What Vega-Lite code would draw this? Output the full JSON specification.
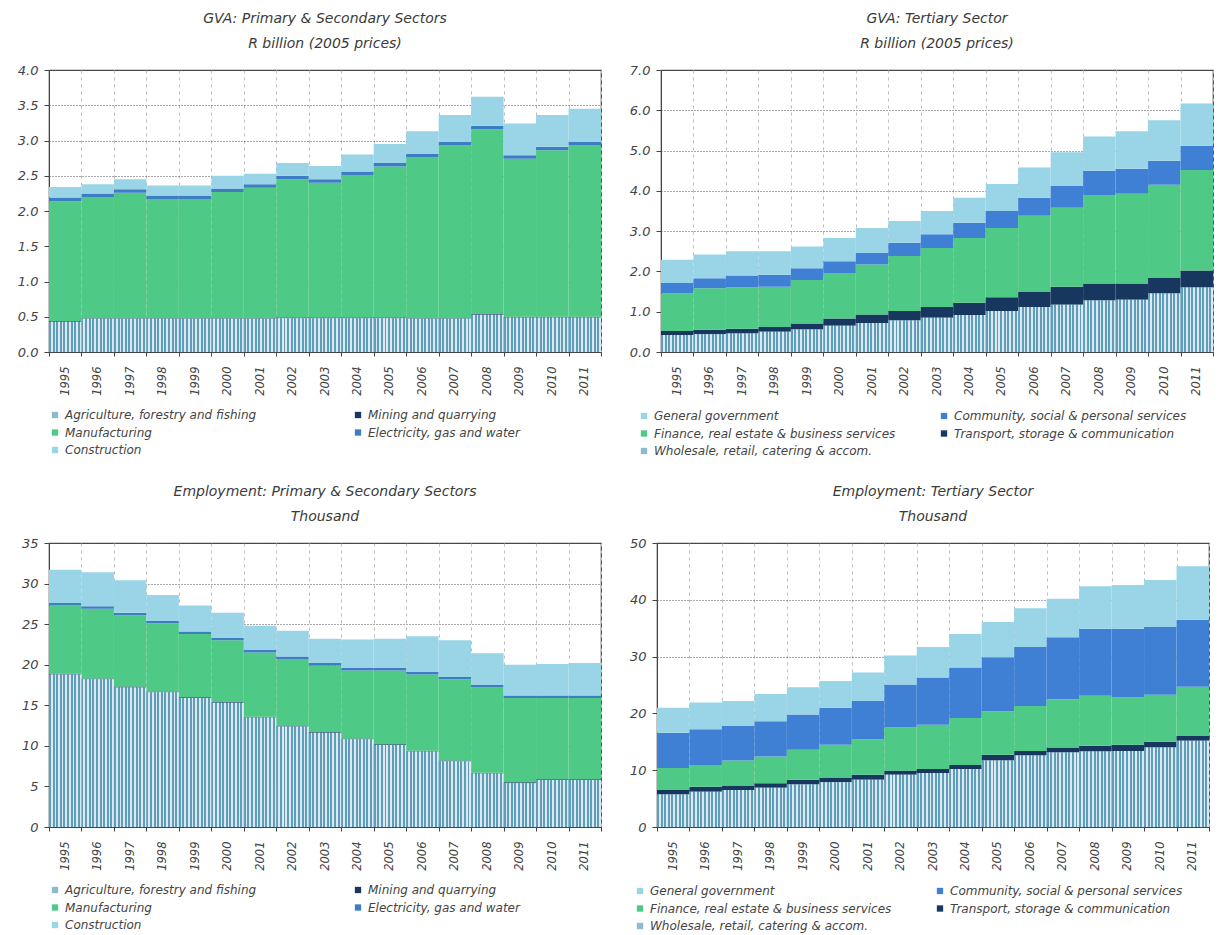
{
  "$schema": "https://vega.github.io/schema/vega-lite/v6.json",
  "padding": {"left": 16, "top": 11, "right": 0, "bottom": 0},
  "background": "white",
  "config": {
    "font": "DejaVu Sans",
    "view": {"stroke": "#444", "strokeWidth": 1.2},
    "title": {"font": "DejaVu Sans", "fontStyle": "italic", "fontWeight": "normal", "fontSize": 14, "color": "#3a3a3a", "lineHeight": 25, "offset": 13, "anchor": "middle"},
    "axisY": {"grid": true, "gridColor": "#555", "gridDash": [1, 2], "gridWidth": 1, "domainColor": "#444", "tickColor": "#444", "tickSize": 5, "labelFont": "DejaVu Sans", "labelFontStyle": "italic", "labelFontSize": 13, "labelColor": "#444", "labelPadding": 6, "title": null},
    "axisX": {"grid": true, "gridColor": "#bbb", "gridDash": [3, 4], "tickBand": "extent", "domainColor": "#444", "tickColor": "#444", "tickSize": 4, "labelAngle": -90, "labelFont": "DejaVu Sans", "labelFontStyle": "italic", "labelFontSize": 11.5, "labelColor": "#444", "labelPadding": 10, "title": null},
    "legend": {"orient": "bottom", "direction": "horizontal", "columns": 2, "labelFont": "DejaVu Sans", "labelFontStyle": "italic", "labelFontSize": 12, "labelColor": "#444", "symbolType": "square", "symbolSize": 40, "symbolStrokeWidth": 0, "rowPadding": 5.5, "labelLimit": 320, "offset": 13}
  },
  "datasets": {
    "gvaP": [
      {"year": "1995", "sector": "Agriculture, forestry and fishing", "value": 0.43}, {"year": "1995", "sector": "Mining and quarrying", "value": 0.01}, {"year": "1995", "sector": "Manufacturing", "value": 1.70}, {"year": "1995", "sector": "Electricity, gas and water", "value": 0.05}, {"year": "1995", "sector": "Construction", "value": 0.15},
      {"year": "1996", "sector": "Agriculture, forestry and fishing", "value": 0.47}, {"year": "1996", "sector": "Mining and quarrying", "value": 0.01}, {"year": "1996", "sector": "Manufacturing", "value": 1.72}, {"year": "1996", "sector": "Electricity, gas and water", "value": 0.05}, {"year": "1996", "sector": "Construction", "value": 0.13},
      {"year": "1997", "sector": "Agriculture, forestry and fishing", "value": 0.47}, {"year": "1997", "sector": "Mining and quarrying", "value": 0.01}, {"year": "1997", "sector": "Manufacturing", "value": 1.78}, {"year": "1997", "sector": "Electricity, gas and water", "value": 0.05}, {"year": "1997", "sector": "Construction", "value": 0.14},
      {"year": "1998", "sector": "Agriculture, forestry and fishing", "value": 0.47}, {"year": "1998", "sector": "Mining and quarrying", "value": 0.01}, {"year": "1998", "sector": "Manufacturing", "value": 1.69}, {"year": "1998", "sector": "Electricity, gas and water", "value": 0.05}, {"year": "1998", "sector": "Construction", "value": 0.14},
      {"year": "1999", "sector": "Agriculture, forestry and fishing", "value": 0.47}, {"year": "1999", "sector": "Mining and quarrying", "value": 0.01}, {"year": "1999", "sector": "Manufacturing", "value": 1.69}, {"year": "1999", "sector": "Electricity, gas and water", "value": 0.05}, {"year": "1999", "sector": "Construction", "value": 0.14},
      {"year": "2000", "sector": "Agriculture, forestry and fishing", "value": 0.47}, {"year": "2000", "sector": "Mining and quarrying", "value": 0.01}, {"year": "2000", "sector": "Manufacturing", "value": 1.79}, {"year": "2000", "sector": "Electricity, gas and water", "value": 0.05}, {"year": "2000", "sector": "Construction", "value": 0.18},
      {"year": "2001", "sector": "Agriculture, forestry and fishing", "value": 0.47}, {"year": "2001", "sector": "Mining and quarrying", "value": 0.01}, {"year": "2001", "sector": "Manufacturing", "value": 1.85}, {"year": "2001", "sector": "Electricity, gas and water", "value": 0.05}, {"year": "2001", "sector": "Construction", "value": 0.15},
      {"year": "2002", "sector": "Agriculture, forestry and fishing", "value": 0.48}, {"year": "2002", "sector": "Mining and quarrying", "value": 0.01}, {"year": "2002", "sector": "Manufacturing", "value": 1.96}, {"year": "2002", "sector": "Electricity, gas and water", "value": 0.05}, {"year": "2002", "sector": "Construction", "value": 0.18},
      {"year": "2003", "sector": "Agriculture, forestry and fishing", "value": 0.48}, {"year": "2003", "sector": "Mining and quarrying", "value": 0.01}, {"year": "2003", "sector": "Manufacturing", "value": 1.91}, {"year": "2003", "sector": "Electricity, gas and water", "value": 0.05}, {"year": "2003", "sector": "Construction", "value": 0.19},
      {"year": "2004", "sector": "Agriculture, forestry and fishing", "value": 0.48}, {"year": "2004", "sector": "Mining and quarrying", "value": 0.01}, {"year": "2004", "sector": "Manufacturing", "value": 2.02}, {"year": "2004", "sector": "Electricity, gas and water", "value": 0.05}, {"year": "2004", "sector": "Construction", "value": 0.24},
      {"year": "2005", "sector": "Agriculture, forestry and fishing", "value": 0.48}, {"year": "2005", "sector": "Mining and quarrying", "value": 0.01}, {"year": "2005", "sector": "Manufacturing", "value": 2.14}, {"year": "2005", "sector": "Electricity, gas and water", "value": 0.05}, {"year": "2005", "sector": "Construction", "value": 0.27},
      {"year": "2006", "sector": "Agriculture, forestry and fishing", "value": 0.47}, {"year": "2006", "sector": "Mining and quarrying", "value": 0.01}, {"year": "2006", "sector": "Manufacturing", "value": 2.28}, {"year": "2006", "sector": "Electricity, gas and water", "value": 0.05}, {"year": "2006", "sector": "Construction", "value": 0.32},
      {"year": "2007", "sector": "Agriculture, forestry and fishing", "value": 0.47}, {"year": "2007", "sector": "Mining and quarrying", "value": 0.01}, {"year": "2007", "sector": "Manufacturing", "value": 2.45}, {"year": "2007", "sector": "Electricity, gas and water", "value": 0.05}, {"year": "2007", "sector": "Construction", "value": 0.38},
      {"year": "2008", "sector": "Agriculture, forestry and fishing", "value": 0.53}, {"year": "2008", "sector": "Mining and quarrying", "value": 0.01}, {"year": "2008", "sector": "Manufacturing", "value": 2.62}, {"year": "2008", "sector": "Electricity, gas and water", "value": 0.05}, {"year": "2008", "sector": "Construction", "value": 0.41},
      {"year": "2009", "sector": "Agriculture, forestry and fishing", "value": 0.49}, {"year": "2009", "sector": "Mining and quarrying", "value": 0.01}, {"year": "2009", "sector": "Manufacturing", "value": 2.24}, {"year": "2009", "sector": "Electricity, gas and water", "value": 0.05}, {"year": "2009", "sector": "Construction", "value": 0.45},
      {"year": "2010", "sector": "Agriculture, forestry and fishing", "value": 0.49}, {"year": "2010", "sector": "Mining and quarrying", "value": 0.01}, {"year": "2010", "sector": "Manufacturing", "value": 2.36}, {"year": "2010", "sector": "Electricity, gas and water", "value": 0.05}, {"year": "2010", "sector": "Construction", "value": 0.45},
      {"year": "2011", "sector": "Agriculture, forestry and fishing", "value": 0.49}, {"year": "2011", "sector": "Mining and quarrying", "value": 0.01}, {"year": "2011", "sector": "Manufacturing", "value": 2.43}, {"year": "2011", "sector": "Electricity, gas and water", "value": 0.05}, {"year": "2011", "sector": "Construction", "value": 0.47}
    ],
    "gvaT": [
      {"year": "1995", "sector": "Wholesale, retail, catering & accom.", "value": 0.42}, {"year": "1995", "sector": "Transport, storage & communication", "value": 0.10}, {"year": "1995", "sector": "Finance, real estate & business services", "value": 0.93}, {"year": "1995", "sector": "Community, social & personal services", "value": 0.26}, {"year": "1995", "sector": "General government", "value": 0.58},
      {"year": "1996", "sector": "Wholesale, retail, catering & accom.", "value": 0.44}, {"year": "1996", "sector": "Transport, storage & communication", "value": 0.11}, {"year": "1996", "sector": "Finance, real estate & business services", "value": 1.03}, {"year": "1996", "sector": "Community, social & personal services", "value": 0.25}, {"year": "1996", "sector": "General government", "value": 0.59},
      {"year": "1997", "sector": "Wholesale, retail, catering & accom.", "value": 0.46}, {"year": "1997", "sector": "Transport, storage & communication", "value": 0.12}, {"year": "1997", "sector": "Finance, real estate & business services", "value": 1.02}, {"year": "1997", "sector": "Community, social & personal services", "value": 0.30}, {"year": "1997", "sector": "General government", "value": 0.60},
      {"year": "1998", "sector": "Wholesale, retail, catering & accom.", "value": 0.50}, {"year": "1998", "sector": "Transport, storage & communication", "value": 0.12}, {"year": "1998", "sector": "Finance, real estate & business services", "value": 1.00}, {"year": "1998", "sector": "Community, social & personal services", "value": 0.30}, {"year": "1998", "sector": "General government", "value": 0.58},
      {"year": "1999", "sector": "Wholesale, retail, catering & accom.", "value": 0.56}, {"year": "1999", "sector": "Transport, storage & communication", "value": 0.15}, {"year": "1999", "sector": "Finance, real estate & business services", "value": 1.08}, {"year": "1999", "sector": "Community, social & personal services", "value": 0.29}, {"year": "1999", "sector": "General government", "value": 0.54},
      {"year": "2000", "sector": "Wholesale, retail, catering & accom.", "value": 0.65}, {"year": "2000", "sector": "Transport, storage & communication", "value": 0.18}, {"year": "2000", "sector": "Finance, real estate & business services", "value": 1.13}, {"year": "2000", "sector": "Community, social & personal services", "value": 0.29}, {"year": "2000", "sector": "General government", "value": 0.58},
      {"year": "2001", "sector": "Wholesale, retail, catering & accom.", "value": 0.72}, {"year": "2001", "sector": "Transport, storage & communication", "value": 0.21}, {"year": "2001", "sector": "Finance, real estate & business services", "value": 1.24}, {"year": "2001", "sector": "Community, social & personal services", "value": 0.29}, {"year": "2001", "sector": "General government", "value": 0.62},
      {"year": "2002", "sector": "Wholesale, retail, catering & accom.", "value": 0.78}, {"year": "2002", "sector": "Transport, storage & communication", "value": 0.24}, {"year": "2002", "sector": "Finance, real estate & business services", "value": 1.36}, {"year": "2002", "sector": "Community, social & personal services", "value": 0.33}, {"year": "2002", "sector": "General government", "value": 0.54},
      {"year": "2003", "sector": "Wholesale, retail, catering & accom.", "value": 0.85}, {"year": "2003", "sector": "Transport, storage & communication", "value": 0.27}, {"year": "2003", "sector": "Finance, real estate & business services", "value": 1.46}, {"year": "2003", "sector": "Community, social & personal services", "value": 0.34}, {"year": "2003", "sector": "General government", "value": 0.58},
      {"year": "2004", "sector": "Wholesale, retail, catering & accom.", "value": 0.92}, {"year": "2004", "sector": "Transport, storage & communication", "value": 0.30}, {"year": "2004", "sector": "Finance, real estate & business services", "value": 1.61}, {"year": "2004", "sector": "Community, social & personal services", "value": 0.38}, {"year": "2004", "sector": "General government", "value": 0.62},
      {"year": "2005", "sector": "Wholesale, retail, catering & accom.", "value": 1.02}, {"year": "2005", "sector": "Transport, storage & communication", "value": 0.34}, {"year": "2005", "sector": "Finance, real estate & business services", "value": 1.72}, {"year": "2005", "sector": "Community, social & personal services", "value": 0.42}, {"year": "2005", "sector": "General government", "value": 0.67},
      {"year": "2006", "sector": "Wholesale, retail, catering & accom.", "value": 1.12}, {"year": "2006", "sector": "Transport, storage & communication", "value": 0.38}, {"year": "2006", "sector": "Finance, real estate & business services", "value": 1.88}, {"year": "2006", "sector": "Community, social & personal services", "value": 0.45}, {"year": "2006", "sector": "General government", "value": 0.75},
      {"year": "2007", "sector": "Wholesale, retail, catering & accom.", "value": 1.17}, {"year": "2007", "sector": "Transport, storage & communication", "value": 0.45}, {"year": "2007", "sector": "Finance, real estate & business services", "value": 1.96}, {"year": "2007", "sector": "Community, social & personal services", "value": 0.54}, {"year": "2007", "sector": "General government", "value": 0.84},
      {"year": "2008", "sector": "Wholesale, retail, catering & accom.", "value": 1.28}, {"year": "2008", "sector": "Transport, storage & communication", "value": 0.42}, {"year": "2008", "sector": "Finance, real estate & business services", "value": 2.20}, {"year": "2008", "sector": "Community, social & personal services", "value": 0.60}, {"year": "2008", "sector": "General government", "value": 0.85},
      {"year": "2009", "sector": "Wholesale, retail, catering & accom.", "value": 1.30}, {"year": "2009", "sector": "Transport, storage & communication", "value": 0.40}, {"year": "2009", "sector": "Finance, real estate & business services", "value": 2.23}, {"year": "2009", "sector": "Community, social & personal services", "value": 0.62}, {"year": "2009", "sector": "General government", "value": 0.93},
      {"year": "2010", "sector": "Wholesale, retail, catering & accom.", "value": 1.45}, {"year": "2010", "sector": "Transport, storage & communication", "value": 0.40}, {"year": "2010", "sector": "Finance, real estate & business services", "value": 2.30}, {"year": "2010", "sector": "Community, social & personal services", "value": 0.60}, {"year": "2010", "sector": "General government", "value": 1.00},
      {"year": "2011", "sector": "Wholesale, retail, catering & accom.", "value": 1.60}, {"year": "2011", "sector": "Transport, storage & communication", "value": 0.42}, {"year": "2011", "sector": "Finance, real estate & business services", "value": 2.50}, {"year": "2011", "sector": "Community, social & personal services", "value": 0.60}, {"year": "2011", "sector": "General government", "value": 1.05}
    ],
    "empP": [
      {"year": "1995", "sector": "Agriculture, forestry and fishing", "value": 18.8}, {"year": "1995", "sector": "Mining and quarrying", "value": 0.1}, {"year": "1995", "sector": "Manufacturing", "value": 8.4}, {"year": "1995", "sector": "Electricity, gas and water", "value": 0.3}, {"year": "1995", "sector": "Construction", "value": 4.1},
      {"year": "1996", "sector": "Agriculture, forestry and fishing", "value": 18.2}, {"year": "1996", "sector": "Mining and quarrying", "value": 0.1}, {"year": "1996", "sector": "Manufacturing", "value": 8.6}, {"year": "1996", "sector": "Electricity, gas and water", "value": 0.3}, {"year": "1996", "sector": "Construction", "value": 4.2},
      {"year": "1997", "sector": "Agriculture, forestry and fishing", "value": 17.2}, {"year": "1997", "sector": "Mining and quarrying", "value": 0.1}, {"year": "1997", "sector": "Manufacturing", "value": 8.8}, {"year": "1997", "sector": "Electricity, gas and water", "value": 0.3}, {"year": "1997", "sector": "Construction", "value": 4.0},
      {"year": "1998", "sector": "Agriculture, forestry and fishing", "value": 16.6}, {"year": "1998", "sector": "Mining and quarrying", "value": 0.1}, {"year": "1998", "sector": "Manufacturing", "value": 8.4}, {"year": "1998", "sector": "Electricity, gas and water", "value": 0.3}, {"year": "1998", "sector": "Construction", "value": 3.2},
      {"year": "1999", "sector": "Agriculture, forestry and fishing", "value": 15.9}, {"year": "1999", "sector": "Mining and quarrying", "value": 0.1}, {"year": "1999", "sector": "Manufacturing", "value": 7.8}, {"year": "1999", "sector": "Electricity, gas and water", "value": 0.3}, {"year": "1999", "sector": "Construction", "value": 3.2},
      {"year": "2000", "sector": "Agriculture, forestry and fishing", "value": 15.3}, {"year": "2000", "sector": "Mining and quarrying", "value": 0.1}, {"year": "2000", "sector": "Manufacturing", "value": 7.6}, {"year": "2000", "sector": "Electricity, gas and water", "value": 0.3}, {"year": "2000", "sector": "Construction", "value": 3.1},
      {"year": "2001", "sector": "Agriculture, forestry and fishing", "value": 13.5}, {"year": "2001", "sector": "Mining and quarrying", "value": 0.1}, {"year": "2001", "sector": "Manufacturing", "value": 7.9}, {"year": "2001", "sector": "Electricity, gas and water", "value": 0.3}, {"year": "2001", "sector": "Construction", "value": 3.0},
      {"year": "2002", "sector": "Agriculture, forestry and fishing", "value": 12.4}, {"year": "2002", "sector": "Mining and quarrying", "value": 0.1}, {"year": "2002", "sector": "Manufacturing", "value": 8.2}, {"year": "2002", "sector": "Electricity, gas and water", "value": 0.3}, {"year": "2002", "sector": "Construction", "value": 3.2},
      {"year": "2003", "sector": "Agriculture, forestry and fishing", "value": 11.6}, {"year": "2003", "sector": "Mining and quarrying", "value": 0.1}, {"year": "2003", "sector": "Manufacturing", "value": 8.2}, {"year": "2003", "sector": "Electricity, gas and water", "value": 0.3}, {"year": "2003", "sector": "Construction", "value": 3.0},
      {"year": "2004", "sector": "Agriculture, forestry and fishing", "value": 10.8}, {"year": "2004", "sector": "Mining and quarrying", "value": 0.1}, {"year": "2004", "sector": "Manufacturing", "value": 8.4}, {"year": "2004", "sector": "Electricity, gas and water", "value": 0.3}, {"year": "2004", "sector": "Construction", "value": 3.5},
      {"year": "2005", "sector": "Agriculture, forestry and fishing", "value": 10.1}, {"year": "2005", "sector": "Mining and quarrying", "value": 0.1}, {"year": "2005", "sector": "Manufacturing", "value": 9.1}, {"year": "2005", "sector": "Electricity, gas and water", "value": 0.3}, {"year": "2005", "sector": "Construction", "value": 3.6},
      {"year": "2006", "sector": "Agriculture, forestry and fishing", "value": 9.3}, {"year": "2006", "sector": "Mining and quarrying", "value": 0.1}, {"year": "2006", "sector": "Manufacturing", "value": 9.4}, {"year": "2006", "sector": "Electricity, gas and water", "value": 0.3}, {"year": "2006", "sector": "Construction", "value": 4.4},
      {"year": "2007", "sector": "Agriculture, forestry and fishing", "value": 8.1}, {"year": "2007", "sector": "Mining and quarrying", "value": 0.1}, {"year": "2007", "sector": "Manufacturing", "value": 10.0}, {"year": "2007", "sector": "Electricity, gas and water", "value": 0.3}, {"year": "2007", "sector": "Construction", "value": 4.5},
      {"year": "2008", "sector": "Agriculture, forestry and fishing", "value": 6.6}, {"year": "2008", "sector": "Mining and quarrying", "value": 0.1}, {"year": "2008", "sector": "Manufacturing", "value": 10.5}, {"year": "2008", "sector": "Electricity, gas and water", "value": 0.3}, {"year": "2008", "sector": "Construction", "value": 3.9},
      {"year": "2009", "sector": "Agriculture, forestry and fishing", "value": 5.4}, {"year": "2009", "sector": "Mining and quarrying", "value": 0.1}, {"year": "2009", "sector": "Manufacturing", "value": 10.4}, {"year": "2009", "sector": "Electricity, gas and water", "value": 0.3}, {"year": "2009", "sector": "Construction", "value": 3.8},
      {"year": "2010", "sector": "Agriculture, forestry and fishing", "value": 5.8}, {"year": "2010", "sector": "Mining and quarrying", "value": 0.1}, {"year": "2010", "sector": "Manufacturing", "value": 10.0}, {"year": "2010", "sector": "Electricity, gas and water", "value": 0.3}, {"year": "2010", "sector": "Construction", "value": 3.9},
      {"year": "2011", "sector": "Agriculture, forestry and fishing", "value": 5.8}, {"year": "2011", "sector": "Mining and quarrying", "value": 0.1}, {"year": "2011", "sector": "Manufacturing", "value": 10.0}, {"year": "2011", "sector": "Electricity, gas and water", "value": 0.3}, {"year": "2011", "sector": "Construction", "value": 4.0}
    ],
    "empT": [
      {"year": "1995", "sector": "Wholesale, retail, catering & accom.", "value": 5.7}, {"year": "1995", "sector": "Transport, storage & communication", "value": 0.8}, {"year": "1995", "sector": "Finance, real estate & business services", "value": 3.9}, {"year": "1995", "sector": "Community, social & personal services", "value": 6.2}, {"year": "1995", "sector": "General government", "value": 4.4},
      {"year": "1996", "sector": "Wholesale, retail, catering & accom.", "value": 6.2}, {"year": "1996", "sector": "Transport, storage & communication", "value": 0.9}, {"year": "1996", "sector": "Finance, real estate & business services", "value": 3.8}, {"year": "1996", "sector": "Community, social & personal services", "value": 6.3}, {"year": "1996", "sector": "General government", "value": 4.7},
      {"year": "1997", "sector": "Wholesale, retail, catering & accom.", "value": 6.5}, {"year": "1997", "sector": "Transport, storage & communication", "value": 0.8}, {"year": "1997", "sector": "Finance, real estate & business services", "value": 4.4}, {"year": "1997", "sector": "Community, social & personal services", "value": 6.1}, {"year": "1997", "sector": "General government", "value": 4.4},
      {"year": "1998", "sector": "Wholesale, retail, catering & accom.", "value": 6.9}, {"year": "1998", "sector": "Transport, storage & communication", "value": 0.8}, {"year": "1998", "sector": "Finance, real estate & business services", "value": 4.7}, {"year": "1998", "sector": "Community, social & personal services", "value": 6.2}, {"year": "1998", "sector": "General government", "value": 4.8},
      {"year": "1999", "sector": "Wholesale, retail, catering & accom.", "value": 7.5}, {"year": "1999", "sector": "Transport, storage & communication", "value": 0.8}, {"year": "1999", "sector": "Finance, real estate & business services", "value": 5.3}, {"year": "1999", "sector": "Community, social & personal services", "value": 6.2}, {"year": "1999", "sector": "General government", "value": 4.8},
      {"year": "2000", "sector": "Wholesale, retail, catering & accom.", "value": 7.9}, {"year": "2000", "sector": "Transport, storage & communication", "value": 0.8}, {"year": "2000", "sector": "Finance, real estate & business services", "value": 5.8}, {"year": "2000", "sector": "Community, social & personal services", "value": 6.5}, {"year": "2000", "sector": "General government", "value": 4.7},
      {"year": "2001", "sector": "Wholesale, retail, catering & accom.", "value": 8.3}, {"year": "2001", "sector": "Transport, storage & communication", "value": 0.9}, {"year": "2001", "sector": "Finance, real estate & business services", "value": 6.2}, {"year": "2001", "sector": "Community, social & personal services", "value": 6.8}, {"year": "2001", "sector": "General government", "value": 5.0},
      {"year": "2002", "sector": "Wholesale, retail, catering & accom.", "value": 9.2}, {"year": "2002", "sector": "Transport, storage & communication", "value": 0.7}, {"year": "2002", "sector": "Finance, real estate & business services", "value": 7.6}, {"year": "2002", "sector": "Community, social & personal services", "value": 7.6}, {"year": "2002", "sector": "General government", "value": 5.1},
      {"year": "2003", "sector": "Wholesale, retail, catering & accom.", "value": 9.5}, {"year": "2003", "sector": "Transport, storage & communication", "value": 0.7}, {"year": "2003", "sector": "Finance, real estate & business services", "value": 7.8}, {"year": "2003", "sector": "Community, social & personal services", "value": 8.3}, {"year": "2003", "sector": "General government", "value": 5.4},
      {"year": "2004", "sector": "Wholesale, retail, catering & accom.", "value": 10.2}, {"year": "2004", "sector": "Transport, storage & communication", "value": 0.7}, {"year": "2004", "sector": "Finance, real estate & business services", "value": 8.3}, {"year": "2004", "sector": "Community, social & personal services", "value": 8.9}, {"year": "2004", "sector": "General government", "value": 5.9},
      {"year": "2005", "sector": "Wholesale, retail, catering & accom.", "value": 11.7}, {"year": "2005", "sector": "Transport, storage & communication", "value": 1.0}, {"year": "2005", "sector": "Finance, real estate & business services", "value": 7.7}, {"year": "2005", "sector": "Community, social & personal services", "value": 9.5}, {"year": "2005", "sector": "General government", "value": 6.2},
      {"year": "2006", "sector": "Wholesale, retail, catering & accom.", "value": 12.6}, {"year": "2006", "sector": "Transport, storage & communication", "value": 0.8}, {"year": "2006", "sector": "Finance, real estate & business services", "value": 7.9}, {"year": "2006", "sector": "Community, social & personal services", "value": 10.4}, {"year": "2006", "sector": "General government", "value": 6.8},
      {"year": "2007", "sector": "Wholesale, retail, catering & accom.", "value": 13.1}, {"year": "2007", "sector": "Transport, storage & communication", "value": 0.9}, {"year": "2007", "sector": "Finance, real estate & business services", "value": 8.5}, {"year": "2007", "sector": "Community, social & personal services", "value": 10.9}, {"year": "2007", "sector": "General government", "value": 6.8},
      {"year": "2008", "sector": "Wholesale, retail, catering & accom.", "value": 13.3}, {"year": "2008", "sector": "Transport, storage & communication", "value": 1.0}, {"year": "2008", "sector": "Finance, real estate & business services", "value": 8.8}, {"year": "2008", "sector": "Community, social & personal services", "value": 11.8}, {"year": "2008", "sector": "General government", "value": 7.5},
      {"year": "2009", "sector": "Wholesale, retail, catering & accom.", "value": 13.4}, {"year": "2009", "sector": "Transport, storage & communication", "value": 1.1}, {"year": "2009", "sector": "Finance, real estate & business services", "value": 8.3}, {"year": "2009", "sector": "Community, social & personal services", "value": 12.1}, {"year": "2009", "sector": "General government", "value": 7.7},
      {"year": "2010", "sector": "Wholesale, retail, catering & accom.", "value": 14.0}, {"year": "2010", "sector": "Transport, storage & communication", "value": 1.0}, {"year": "2010", "sector": "Finance, real estate & business services", "value": 8.3}, {"year": "2010", "sector": "Community, social & personal services", "value": 11.9}, {"year": "2010", "sector": "General government", "value": 8.3},
      {"year": "2011", "sector": "Wholesale, retail, catering & accom.", "value": 15.2}, {"year": "2011", "sector": "Transport, storage & communication", "value": 0.8}, {"year": "2011", "sector": "Finance, real estate & business services", "value": 8.7}, {"year": "2011", "sector": "Community, social & personal services", "value": 11.8}, {"year": "2011", "sector": "General government", "value": 9.4}
    ]
  },
  "resolve": {"scale": {"color": "independent"}, "legend": {"color": "independent"}},
  "spacing": 26,
  "vconcat": [
    {
      "hconcat": [
        {
          "title": {"text": ["GVA: Primary & Secondary Sectors", "R billion (2005 prices)"]},
          "width": 552, "height": 282,
          "data": {"name": "gvaP"},
          "transform": [{"calculate": "indexof(['Agriculture, forestry and fishing', 'Mining and quarrying', 'Manufacturing', 'Electricity, gas and water', 'Construction'], datum.sector)", "as": "k"}],
          "encoding": {
            "x": {"field": "year", "type": "ordinal", "scale": {"paddingInner": 0, "paddingOuter": 0}},
            "y": {"field": "value", "type": "quantitative", "scale": {"domain": [0, 4]}, "axis": {"values": [0, 0.5, 1, 1.5, 2, 2.5, 3, 3.5, 4], "format": ".1f"}},
            "detail": {"field": "sector", "type": "nominal"},
            "order": {"field": "k", "type": "quantitative", "sort": "ascending"}
          },
          "layer": [
            {
              "mark": {"type": "bar"},
              "encoding": {
                "color": {"field": "sector", "type": "nominal",
                  "scale": {"domain": ["Agriculture, forestry and fishing", "Mining and quarrying", "Manufacturing", "Electricity, gas and water", "Construction"], "range": ["#8cbad0", "#17375e", "#4fca86", "#3c7dc4", "#9ad4e7"]},
                  "legend": {"title": null, "columnPadding": 95}}
              }
            },
            {
              "mark": {"type": "bar", "strokeWidth": 0},
              "encoding": {
                "fill": {"condition": {"test": "datum.sector === 'Agriculture, forestry and fishing'", "value": {"gradient": "linear", "x1": 0, "y1": 0, "x2": 1, "y2": 0, "stops": [
                  {"offset": 0, "color": "#5f9dbb"}, {"offset": 0.061, "color": "#5f9dbb"}, {"offset": 0.061, "color": "#dbeaf1"}, {"offset": 0.111, "color": "#dbeaf1"},
                  {"offset": 0.111, "color": "#5f9dbb"}, {"offset": 0.172, "color": "#5f9dbb"}, {"offset": 0.172, "color": "#dbeaf1"}, {"offset": 0.222, "color": "#dbeaf1"},
                  {"offset": 0.222, "color": "#5f9dbb"}, {"offset": 0.283, "color": "#5f9dbb"}, {"offset": 0.283, "color": "#dbeaf1"}, {"offset": 0.333, "color": "#dbeaf1"},
                  {"offset": 0.333, "color": "#5f9dbb"}, {"offset": 0.394, "color": "#5f9dbb"}, {"offset": 0.394, "color": "#dbeaf1"}, {"offset": 0.444, "color": "#dbeaf1"},
                  {"offset": 0.444, "color": "#5f9dbb"}, {"offset": 0.505, "color": "#5f9dbb"}, {"offset": 0.505, "color": "#dbeaf1"}, {"offset": 0.556, "color": "#dbeaf1"},
                  {"offset": 0.556, "color": "#5f9dbb"}, {"offset": 0.617, "color": "#5f9dbb"}, {"offset": 0.617, "color": "#dbeaf1"}, {"offset": 0.667, "color": "#dbeaf1"},
                  {"offset": 0.667, "color": "#5f9dbb"}, {"offset": 0.728, "color": "#5f9dbb"}, {"offset": 0.728, "color": "#dbeaf1"}, {"offset": 0.778, "color": "#dbeaf1"},
                  {"offset": 0.778, "color": "#5f9dbb"}, {"offset": 0.839, "color": "#5f9dbb"}, {"offset": 0.839, "color": "#dbeaf1"}, {"offset": 0.889, "color": "#dbeaf1"},
                  {"offset": 0.889, "color": "#5f9dbb"}, {"offset": 0.950, "color": "#5f9dbb"}, {"offset": 0.950, "color": "#dbeaf1"}, {"offset": 1, "color": "#dbeaf1"}]}},
                  "value": "transparent"}
              }
            }
          ]
        },
        {
          "title": {"text": ["GVA: Tertiary Sector", "R billion (2005 prices)"]},
          "width": 552, "height": 282,
          "data": {"name": "gvaT"},
          "transform": [{"calculate": "indexof(['Wholesale, retail, catering & accom.', 'Transport, storage & communication', 'Finance, real estate & business services', 'Community, social & personal services', 'General government'], datum.sector)", "as": "k"}],
          "encoding": {
            "x": {"field": "year", "type": "ordinal", "scale": {"paddingInner": 0, "paddingOuter": 0}},
            "y": {"field": "value", "type": "quantitative", "scale": {"domain": [0, 7]}, "axis": {"values": [0, 1, 2, 3, 4, 5, 6, 7], "format": ".1f"}},
            "detail": {"field": "sector", "type": "nominal"},
            "order": {"field": "k", "type": "quantitative", "sort": "ascending"}
          },
          "layer": [
            {
              "mark": {"type": "bar"},
              "encoding": {
                "color": {"field": "sector", "type": "nominal",
                  "scale": {"domain": ["General government", "Community, social & personal services", "Finance, real estate & business services", "Transport, storage & communication", "Wholesale, retail, catering & accom."], "range": ["#9ad4e7", "#3f80d4", "#4fca86", "#17375e", "#8cbad0"]},
                  "legend": {"title": null, "columnPadding": 42, "orient": "none", "legendX": -23, "legendY": 340}}
              }
            },
            {
              "mark": {"type": "bar", "strokeWidth": 0},
              "encoding": {
                "fill": {"condition": {"test": "datum.sector === 'Wholesale, retail, catering & accom.'", "value": {"gradient": "linear", "x1": 0, "y1": 0, "x2": 1, "y2": 0, "stops": [
                  {"offset": 0, "color": "#5f9dbb"}, {"offset": 0.061, "color": "#5f9dbb"}, {"offset": 0.061, "color": "#dbeaf1"}, {"offset": 0.111, "color": "#dbeaf1"},
                  {"offset": 0.111, "color": "#5f9dbb"}, {"offset": 0.172, "color": "#5f9dbb"}, {"offset": 0.172, "color": "#dbeaf1"}, {"offset": 0.222, "color": "#dbeaf1"},
                  {"offset": 0.222, "color": "#5f9dbb"}, {"offset": 0.283, "color": "#5f9dbb"}, {"offset": 0.283, "color": "#dbeaf1"}, {"offset": 0.333, "color": "#dbeaf1"},
                  {"offset": 0.333, "color": "#5f9dbb"}, {"offset": 0.394, "color": "#5f9dbb"}, {"offset": 0.394, "color": "#dbeaf1"}, {"offset": 0.444, "color": "#dbeaf1"},
                  {"offset": 0.444, "color": "#5f9dbb"}, {"offset": 0.505, "color": "#5f9dbb"}, {"offset": 0.505, "color": "#dbeaf1"}, {"offset": 0.556, "color": "#dbeaf1"},
                  {"offset": 0.556, "color": "#5f9dbb"}, {"offset": 0.617, "color": "#5f9dbb"}, {"offset": 0.617, "color": "#dbeaf1"}, {"offset": 0.667, "color": "#dbeaf1"},
                  {"offset": 0.667, "color": "#5f9dbb"}, {"offset": 0.728, "color": "#5f9dbb"}, {"offset": 0.728, "color": "#dbeaf1"}, {"offset": 0.778, "color": "#dbeaf1"},
                  {"offset": 0.778, "color": "#5f9dbb"}, {"offset": 0.839, "color": "#5f9dbb"}, {"offset": 0.839, "color": "#dbeaf1"}, {"offset": 0.889, "color": "#dbeaf1"},
                  {"offset": 0.889, "color": "#5f9dbb"}, {"offset": 0.950, "color": "#5f9dbb"}, {"offset": 0.950, "color": "#dbeaf1"}, {"offset": 1, "color": "#dbeaf1"}]}},
                  "value": "transparent"}
              }
            }
          ]
        }
      ],
      "spacing": 25,
      "resolve": {"scale": {"color": "independent"}, "legend": {"color": "independent"}}
    },
    {
      "hconcat": [
        {
          "title": {"text": ["Employment: Primary & Secondary Sectors", "Thousand"]},
          "width": 552, "height": 284,
          "data": {"name": "empP"},
          "transform": [{"calculate": "indexof(['Agriculture, forestry and fishing', 'Mining and quarrying', 'Manufacturing', 'Electricity, gas and water', 'Construction'], datum.sector)", "as": "k"}],
          "encoding": {
            "x": {"field": "year", "type": "ordinal", "scale": {"paddingInner": 0, "paddingOuter": 0}},
            "y": {"field": "value", "type": "quantitative", "scale": {"domain": [0, 35]}, "axis": {"values": [0, 5, 10, 15, 20, 25, 30, 35], "format": "d"}},
            "detail": {"field": "sector", "type": "nominal"},
            "order": {"field": "k", "type": "quantitative", "sort": "ascending"}
          },
          "layer": [
            {
              "mark": {"type": "bar"},
              "encoding": {
                "color": {"field": "sector", "type": "nominal",
                  "scale": {"domain": ["Agriculture, forestry and fishing", "Mining and quarrying", "Manufacturing", "Electricity, gas and water", "Construction"], "range": ["#8cbad0", "#17375e", "#4fca86", "#3c7dc4", "#9ad4e7"]},
                  "legend": {"title": null, "columnPadding": 95}}
              }
            },
            {
              "mark": {"type": "bar", "strokeWidth": 0},
              "encoding": {
                "fill": {"condition": {"test": "datum.sector === 'Agriculture, forestry and fishing'", "value": {"gradient": "linear", "x1": 0, "y1": 0, "x2": 1, "y2": 0, "stops": [
                  {"offset": 0, "color": "#5f9dbb"}, {"offset": 0.061, "color": "#5f9dbb"}, {"offset": 0.061, "color": "#dbeaf1"}, {"offset": 0.111, "color": "#dbeaf1"},
                  {"offset": 0.111, "color": "#5f9dbb"}, {"offset": 0.172, "color": "#5f9dbb"}, {"offset": 0.172, "color": "#dbeaf1"}, {"offset": 0.222, "color": "#dbeaf1"},
                  {"offset": 0.222, "color": "#5f9dbb"}, {"offset": 0.283, "color": "#5f9dbb"}, {"offset": 0.283, "color": "#dbeaf1"}, {"offset": 0.333, "color": "#dbeaf1"},
                  {"offset": 0.333, "color": "#5f9dbb"}, {"offset": 0.394, "color": "#5f9dbb"}, {"offset": 0.394, "color": "#dbeaf1"}, {"offset": 0.444, "color": "#dbeaf1"},
                  {"offset": 0.444, "color": "#5f9dbb"}, {"offset": 0.505, "color": "#5f9dbb"}, {"offset": 0.505, "color": "#dbeaf1"}, {"offset": 0.556, "color": "#dbeaf1"},
                  {"offset": 0.556, "color": "#5f9dbb"}, {"offset": 0.617, "color": "#5f9dbb"}, {"offset": 0.617, "color": "#dbeaf1"}, {"offset": 0.667, "color": "#dbeaf1"},
                  {"offset": 0.667, "color": "#5f9dbb"}, {"offset": 0.728, "color": "#5f9dbb"}, {"offset": 0.728, "color": "#dbeaf1"}, {"offset": 0.778, "color": "#dbeaf1"},
                  {"offset": 0.778, "color": "#5f9dbb"}, {"offset": 0.839, "color": "#5f9dbb"}, {"offset": 0.839, "color": "#dbeaf1"}, {"offset": 0.889, "color": "#dbeaf1"},
                  {"offset": 0.889, "color": "#5f9dbb"}, {"offset": 0.950, "color": "#5f9dbb"}, {"offset": 0.950, "color": "#dbeaf1"}, {"offset": 1, "color": "#dbeaf1"}]}},
                  "value": "transparent"}
              }
            }
          ]
        },
        {
          "title": {"text": ["Employment: Tertiary Sector", "Thousand"]},
          "width": 552, "height": 284,
          "data": {"name": "empT"},
          "transform": [{"calculate": "indexof(['Wholesale, retail, catering & accom.', 'Transport, storage & communication', 'Finance, real estate & business services', 'Community, social & personal services', 'General government'], datum.sector)", "as": "k"}],
          "encoding": {
            "x": {"field": "year", "type": "ordinal", "scale": {"paddingInner": 0, "paddingOuter": 0}},
            "y": {"field": "value", "type": "quantitative", "scale": {"domain": [0, 50]}, "axis": {"values": [0, 10, 20, 30, 40, 50], "format": "d"}},
            "detail": {"field": "sector", "type": "nominal"},
            "order": {"field": "k", "type": "quantitative", "sort": "ascending"}
          },
          "layer": [
            {
              "mark": {"type": "bar"},
              "encoding": {
                "color": {"field": "sector", "type": "nominal",
                  "scale": {"domain": ["General government", "Community, social & personal services", "Finance, real estate & business services", "Transport, storage & communication", "Wholesale, retail, catering & accom."], "range": ["#9ad4e7", "#3f80d4", "#4fca86", "#17375e", "#8cbad0"]},
                  "legend": {"title": null, "columnPadding": 42, "orient": "none", "legendX": -23, "legendY": 342}}
              }
            },
            {
              "mark": {"type": "bar", "strokeWidth": 0},
              "encoding": {
                "fill": {"condition": {"test": "datum.sector === 'Wholesale, retail, catering & accom.'", "value": {"gradient": "linear", "x1": 0, "y1": 0, "x2": 1, "y2": 0, "stops": [
                  {"offset": 0, "color": "#5f9dbb"}, {"offset": 0.061, "color": "#5f9dbb"}, {"offset": 0.061, "color": "#dbeaf1"}, {"offset": 0.111, "color": "#dbeaf1"},
                  {"offset": 0.111, "color": "#5f9dbb"}, {"offset": 0.172, "color": "#5f9dbb"}, {"offset": 0.172, "color": "#dbeaf1"}, {"offset": 0.222, "color": "#dbeaf1"},
                  {"offset": 0.222, "color": "#5f9dbb"}, {"offset": 0.283, "color": "#5f9dbb"}, {"offset": 0.283, "color": "#dbeaf1"}, {"offset": 0.333, "color": "#dbeaf1"},
                  {"offset": 0.333, "color": "#5f9dbb"}, {"offset": 0.394, "color": "#5f9dbb"}, {"offset": 0.394, "color": "#dbeaf1"}, {"offset": 0.444, "color": "#dbeaf1"},
                  {"offset": 0.444, "color": "#5f9dbb"}, {"offset": 0.505, "color": "#5f9dbb"}, {"offset": 0.505, "color": "#dbeaf1"}, {"offset": 0.556, "color": "#dbeaf1"},
                  {"offset": 0.556, "color": "#5f9dbb"}, {"offset": 0.617, "color": "#5f9dbb"}, {"offset": 0.617, "color": "#dbeaf1"}, {"offset": 0.667, "color": "#dbeaf1"},
                  {"offset": 0.667, "color": "#5f9dbb"}, {"offset": 0.728, "color": "#5f9dbb"}, {"offset": 0.728, "color": "#dbeaf1"}, {"offset": 0.778, "color": "#dbeaf1"},
                  {"offset": 0.778, "color": "#5f9dbb"}, {"offset": 0.839, "color": "#5f9dbb"}, {"offset": 0.839, "color": "#dbeaf1"}, {"offset": 0.889, "color": "#dbeaf1"},
                  {"offset": 0.889, "color": "#5f9dbb"}, {"offset": 0.950, "color": "#5f9dbb"}, {"offset": 0.950, "color": "#dbeaf1"}, {"offset": 1, "color": "#dbeaf1"}]}},
                  "value": "transparent"}
              }
            }
          ]
        }
      ],
      "spacing": 25,
      "resolve": {"scale": {"color": "independent"}, "legend": {"color": "independent"}}
    }
  ]
}
